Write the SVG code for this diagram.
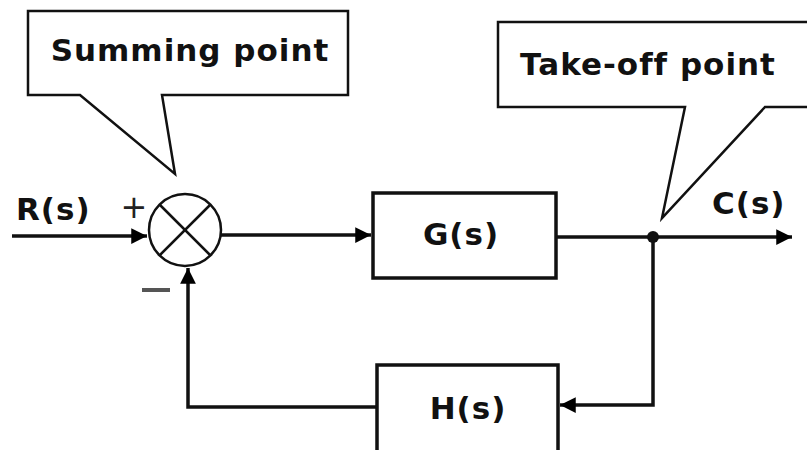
<svg xmlns="http://www.w3.org/2000/svg" width="807" height="450" viewBox="0 0 807 450">
<defs>
<marker id="arr" viewBox="0 0 10 10" refX="10" refY="5" markerWidth="5" markerHeight="4.5" markerUnits="strokeWidth" orient="auto">
<path d="M0,0 L10,5 L0,10 z" fill="#000"/>
</marker>
</defs>
<style>
.t{font-family:"DejaVu Sans",Verdana,sans-serif;font-weight:bold;font-size:31px;fill:#111;letter-spacing:1px}
.call{fill:#fff;stroke:#111;stroke-width:2.5}
.blk{fill:#fff;stroke:#111;stroke-width:3.5}
.ln{fill:none;stroke:#111;stroke-width:3.5}
</style>
<rect width="807" height="450" fill="#fff"/>
<g id="summing-callout">
<path class="call" d="M28,11 H348 V95 H162 L175,174 L80,95 H28 Z"/>
<text class="t" x="190" y="61" text-anchor="middle">Summing point</text>
</g>
<g id="takeoff-callout">
<path class="call" d="M498,22 H812 V107 H765 L662,218 L685,107 H498 Z"/>
<text class="t" x="648" y="75" text-anchor="middle">Take-off point</text>
</g>
<g id="connectors">
<line class="ln" x1="12" y1="236" x2="147" y2="236" marker-end="url(#arr)"/>
<line class="ln" x1="221" y1="235" x2="371" y2="235" marker-end="url(#arr)"/>
<line class="ln" x1="556" y1="237" x2="792" y2="237" marker-end="url(#arr)"/>
<polyline class="ln" points="653,237 653,405 560,405" marker-end="url(#arr)"/>
<polyline class="ln" points="377,407 188,407 188,268" marker-end="url(#arr)"/>
<circle cx="653" cy="237" r="6" fill="#111"/>
</g>
<g id="summing-junction">
<circle cx="185" cy="230" r="36" fill="#fff" stroke="#111" stroke-width="2.5"/>
<line x1="159.5" y1="204.5" x2="210.5" y2="255.5" stroke="#111" stroke-width="2.5"/>
<line x1="210.5" y1="204.5" x2="159.5" y2="255.5" stroke="#111" stroke-width="2.5"/>
<text x="134" y="218" font-family="'DejaVu Sans',sans-serif" font-size="32" fill="#222" text-anchor="middle">+</text>
<rect x="142" y="288" width="28" height="4" fill="#555"/>
</g>
<g id="G">
<rect class="blk" x="373" y="193" width="183" height="85"/>
<text class="t" x="461" y="245" text-anchor="middle">G(s)</text>
</g>
<g id="H">
<rect class="blk" x="377" y="365" width="181" height="95"/>
<text class="t" x="468" y="419" text-anchor="middle">H(s)</text>
</g>
<g id="labels">
<text class="t" x="16" y="220">R(s)</text>
<text class="t" x="712" y="214">C(s)</text>
</g>
</svg>
